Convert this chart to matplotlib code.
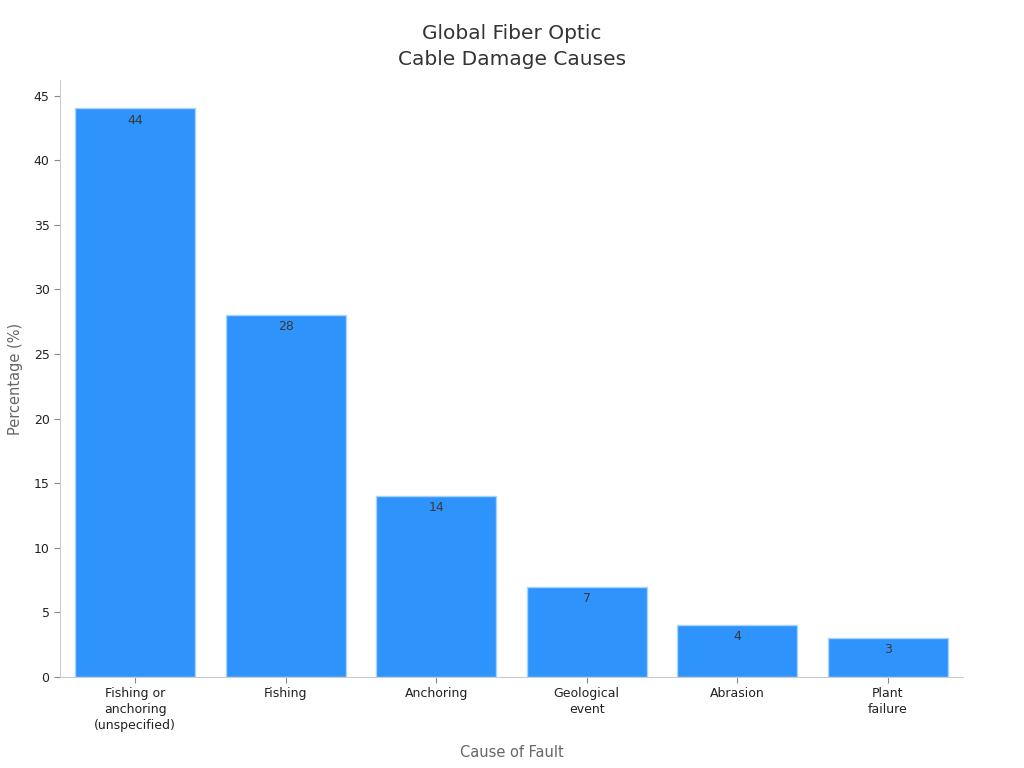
import matplotlib.pyplot as plt

categories = ['Fishing or\nanchoring\n(unspecified)', 'Fishing', 'Anchoring',
              'Geological\nevent', 'Abrasion', 'Plant\nfailure']
percentages = [44, 28, 14, 7, 4, 3]

fig = plt.figure(figsize=(10.24, 7.68), dpi=100)
ax = fig.add_axes([0.0586, 0.1185, 0.8818, 0.7773])

x = range(len(categories))
bars = ax.bar(x, percentages, width=0.8, color='#2E93FA', edgecolor='#A9D2FC', linewidth=1)

for b, v in zip(bars, percentages):
    ax.text(b.get_x() + b.get_width() / 2, v - 0.4, str(v), ha='center', va='top',
            fontsize=9, color='#3a3a3a')

ax.set_xlim(-0.5, 5.5)
ax.set_ylim(0, 46.2)
ax.set_yticks(range(0, 50, 5))
ax.set_xticks(list(x))
ax.set_xticklabels(categories, fontsize=9, color='#222222', linespacing=1.3)
ax.tick_params(axis='y', labelsize=9, labelcolor='#222222', color='#888888', length=4)
ax.tick_params(axis='x', color='#888888', length=4)

for side in ['top', 'right']:
    ax.spines[side].set_visible(False)
for side in ['left', 'bottom']:
    ax.spines[side].set_color('#cccccc')

ax.set_xlabel('Cause of Fault', fontsize=10.5, color='#666666', labelpad=9)
ax.set_ylabel('Percentage (%)', fontsize=10.5, color='#666666', labelpad=8)
fig.suptitle('Global Fiber Optic\nCable Damage Causes', fontsize=14.5, color='#333333',
             y=0.969, linespacing=1.45)

fig.savefig('out.png', dpi=100)
